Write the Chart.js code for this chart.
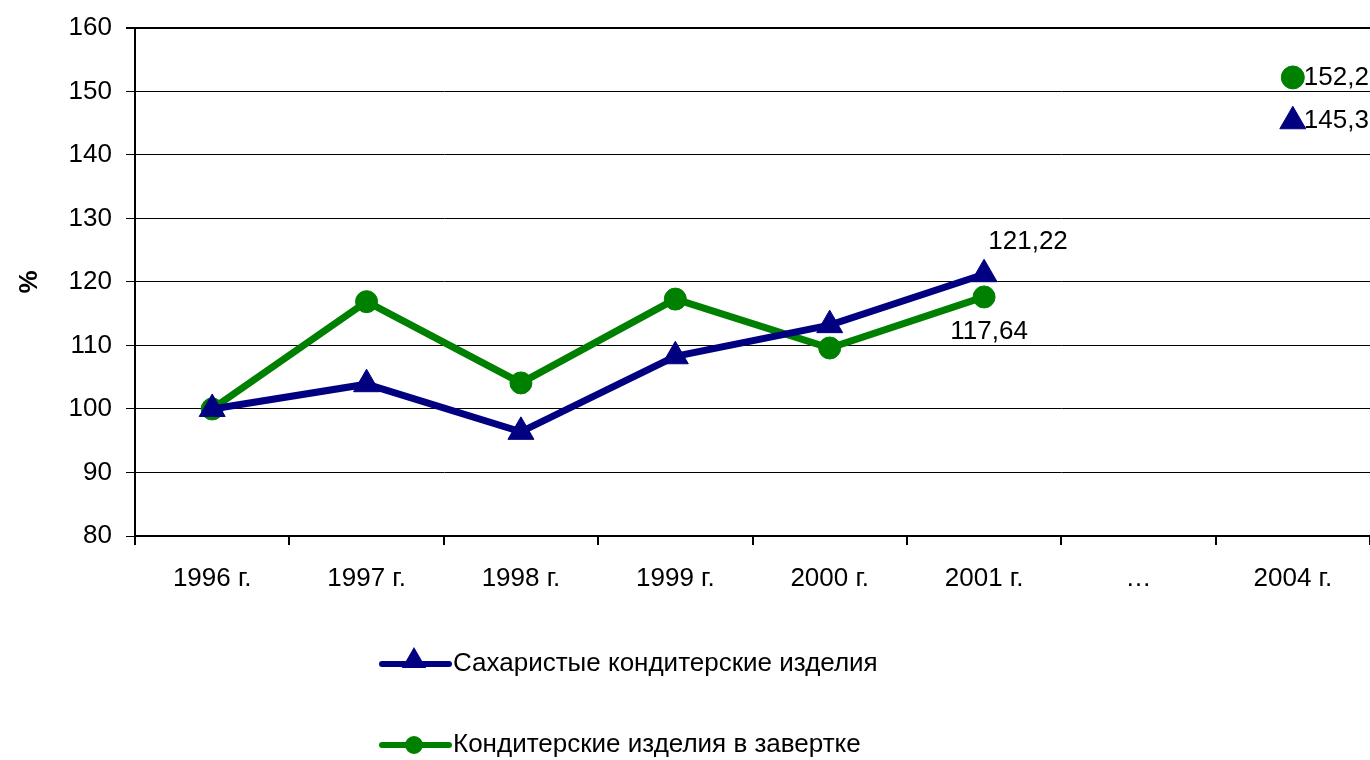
<!DOCTYPE html>
<html>
<head>
<meta charset="utf-8">
<script src="https://cdn.jsdelivr.net/npm/chart.js@4/dist/chart.umd.min.js"></script>
<style>
  html, body { margin: 0; padding: 0; background: #fff; overflow: hidden; }
  #wrap { width: 1370px; height: 760px; position: relative; }
  canvas { display: block; }
</style>
</head>
<body>
<div id="wrap"><canvas id="chart"></canvas></div>
<script>
// data
const years = ['1996 г.', '1997 г.', '1998 г.', '1999 г.', '2000 г.', '2001 г.', '…', '2004 г.'];
const sugarValues = [100, 103.9, 96.4, 108.3, 113.2, 121.22, null, 145.3];
const wrappedValues = [100, 116.9, 104.1, 117.3, 109.6, 117.64, null, 152.2];
const sugarLabel = 'Сахаристые кондитерские изделия';
const wrappedLabel = 'Кондитерские изделия в завертке';
// which points get a value label, and where
const sugarNotes = { 5: 'above-right', 7: 'right' };
const wrappedNotes = { 5: 'below', 7: 'right' };

const FONT = 'Arial, "Liberation Sans", sans-serif';
const BLUE = '#000080';
const GREEN = '#008000';

const valueLabels = {
  id: 'valueLabels',
  afterDatasetsDraw(chart) {
    const ctx = chart.ctx;
    ctx.save();
    ctx.font = '26px ' + FONT;
    ctx.fillStyle = '#000';
    ctx.textBaseline = 'middle';
    [sugarNotes, wrappedNotes].forEach((notes, di) => {
      const meta = chart.getDatasetMeta(di);
      const vals = chart.data.datasets[di].data;
      Object.keys(notes).forEach(k => {
        const pt = meta.data[k];
        const txt = String(vals[k]).replace('.', ',');
        const where = notes[k];
        if (where === 'right') {
          ctx.textAlign = 'left';
          ctx.fillText(txt, pt.x + 11, pt.y);
        } else if (where === 'above-right') {
          ctx.textAlign = 'center';
          ctx.fillText(txt, pt.x + 44, pt.y - 32);
        } else {
          ctx.textAlign = 'center';
          ctx.fillText(txt, pt.x + 5, pt.y + 35);
        }
      });
    });
    ctx.restore();
  }
};

const sideLegend = {
  id: 'sideLegend',
  afterDraw(chart) {
    const ctx = chart.ctx;
    const rows = [
      { y: 664, color: BLUE, style: 'triangle', r: 8, text: sugarLabel },
      { y: 745, color: GREEN, style: 'circle', r: 6, text: wrappedLabel }
    ];
    ctx.save();
    rows.forEach(row => {
      ctx.strokeStyle = row.color;
      ctx.lineWidth = 6;
      ctx.lineCap = 'round';
      ctx.beginPath();
      ctx.moveTo(382, row.y);
      ctx.lineTo(449, row.y);
      ctx.stroke();
      Chart.helpers.drawPoint(ctx, {
        pointStyle: row.style, radius: row.r, borderWidth: 1,
        rotation: 0
      }, 414, row.style === 'triangle' ? row.y - 3 : row.y);
      ctx.fillStyle = row.color;
      ctx.fill();
      ctx.fillStyle = '#000';
      ctx.font = '26px ' + FONT;
      ctx.textAlign = 'left';
      ctx.textBaseline = 'middle';
      ctx.fillText(row.text, 453, row.y);
    });
    ctx.restore();
  }
};

new Chart(document.getElementById('chart'), {
  type: 'line',
  data: {
    labels: years,
    datasets: [
      {
        label: sugarLabel,
        data: sugarValues,
        borderColor: BLUE,
        backgroundColor: BLUE,
        borderWidth: 7,
        pointStyle: 'triangle',
        pointRadius: 15,
        pointBorderWidth: 1,
        tension: 0,
        spanGaps: false
      },
      {
        label: wrappedLabel,
        data: wrappedValues,
        borderColor: GREEN,
        backgroundColor: GREEN,
        borderWidth: 7,
        pointStyle: 'circle',
        pointRadius: [11, 11, 11, 11, 11, 11, 11, 11.5],
        pointBorderWidth: 1,
        tension: 0,
        spanGaps: false
      }
    ]
  },
  options: {
    responsive: true,
    maintainAspectRatio: false,
    animation: false,
    layout: { autoPadding: false, padding: { top: 20, right: 0, left: 0, bottom: 0 } },
    plugins: {
      legend: { display: false },
      tooltip: { enabled: false }
    },
    scales: {
      x: {
        offset: true,
        grid: {
          offset: true,
          drawOnChartArea: false,
          color: '#000',
          lineWidth: 2,
          tickLength: 9
        },
        border: { color: '#000', width: 2 },
        ticks: { color: '#000', font: { family: FONT, size: 26 }, padding: 18, maxRotation: 0 },
        afterFit(axis) { axis.height = 224; }
      },
      y: {
        min: 80,
        max: 160,
        ticks: { stepSize: 10, color: '#000', font: { family: FONT, size: 26, lineHeight: 1.07 }, padding: 14 },
        grid: {
          color: '#000',
          lineWidth: ctx => (ctx.tick && ctx.tick.value === 160 ? 2 : 1),
          tickLength: 9
        },
        border: { color: '#000', width: 2 },
        title: { display: true, text: '%', color: '#000', font: { family: FONT, size: 26, weight: 'bold' }, padding: { top: 14, bottom: 0 } },
        afterFit(axis) { axis.width = 135; }
      }
    }
  },
  plugins: [valueLabels, sideLegend]
});
</script>
</body>
</html>
